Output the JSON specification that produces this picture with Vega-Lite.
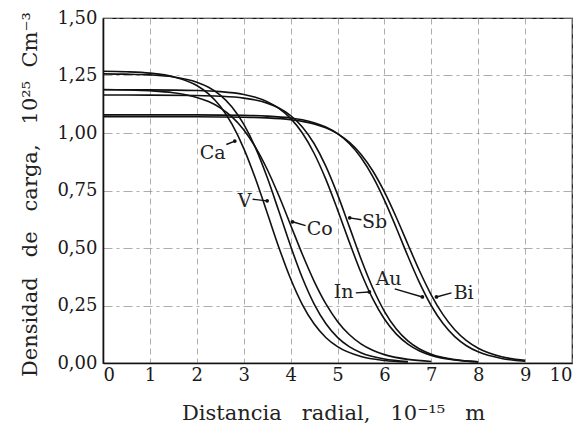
{
  "$schema": "https://vega.github.io/schema/vega-lite/v6.json",
  "autosize": {"type": "none"},
  "padding": {"left": 103, "top": 18, "right": 11, "bottom": 70},
  "width": 469,
  "height": 345,
  "background": "#ffffff",
  "config": {
    "font": "DejaVu Serif",
    "view": {"stroke": "#111", "strokeWidth": 1.2}
  },
  "datasets": {
    "curves": [
      {"s":"Ca","x":0,"y":1.2686},{"s":"Ca","x":0.5,"y":1.2663},{"s":"Ca","x":1.0,"y":1.2603},{"s":"Ca","x":1.5,"y":1.2449},{"s":"Ca","x":2.0,"y":1.2064},{"s":"Ca","x":2.25,"y":1.1702},{"s":"Ca","x":2.5,"y":1.1161},{"s":"Ca","x":2.75,"y":1.0383},{"s":"Ca","x":3.0,"y":0.9332},{"s":"Ca","x":3.25,"y":0.8019},{"s":"Ca","x":3.5,"y":0.6533},{"s":"Ca","x":3.75,"y":0.5026},{"s":"Ca","x":4.0,"y":0.3661},{"s":"Ca","x":4.25,"y":0.2543},{"s":"Ca","x":4.5,"y":0.1703},{"s":"Ca","x":4.75,"y":0.111},{"s":"Ca","x":5.0,"y":0.071},{"s":"Ca","x":5.5,"y":0.0281},{"s":"Ca","x":6.0,"y":0.0109},{"s":"Ca","x":6.5,"y":0.0042},
      {"s":"V","x":0,"y":1.2572},{"s":"V","x":0.5,"y":1.2559},{"s":"V","x":1.0,"y":1.2526},{"s":"V","x":1.5,"y":1.2437},{"s":"V","x":2.0,"y":1.2209},{"s":"V","x":2.25,"y":1.1989},{"s":"V","x":2.5,"y":1.1647},{"s":"V","x":2.75,"y":1.1131},{"s":"V","x":3.0,"y":1.0383},{"s":"V","x":3.25,"y":0.9362},{"s":"V","x":3.5,"y":0.8072},{"s":"V","x":3.75,"y":0.6595},{"s":"V","x":4.0,"y":0.5084},{"s":"V","x":4.25,"y":0.3704},{"s":"V","x":4.5,"y":0.2571},{"s":"V","x":4.75,"y":0.1717},{"s":"V","x":5.0,"y":0.1115},{"s":"V","x":5.25,"y":0.071},{"s":"V","x":5.5,"y":0.0447},{"s":"V","x":6.0,"y":0.0173},{"s":"V","x":6.5,"y":0.0066},
      {"s":"Co","x":0,"y":1.1889},{"s":"Co","x":0.5,"y":1.1873},{"s":"Co","x":1.0,"y":1.1836},{"s":"Co","x":1.5,"y":1.175},{"s":"Co","x":2.0,"y":1.1548},{"s":"Co","x":2.25,"y":1.1365},{"s":"Co","x":2.5,"y":1.1094},{"s":"Co","x":2.75,"y":1.07},{"s":"Co","x":3.0,"y":1.0143},{"s":"Co","x":3.25,"y":0.9389},{"s":"Co","x":3.5,"y":0.8424},{"s":"Co","x":3.75,"y":0.727},{"s":"Co","x":4.0,"y":0.6001},{"s":"Co","x":4.25,"y":0.4728},{"s":"Co","x":4.5,"y":0.3562},{"s":"Co","x":4.75,"y":0.2579},{"s":"Co","x":5.0,"y":0.1809},{"s":"Co","x":5.25,"y":0.1238},{"s":"Co","x":5.5,"y":0.0833},{"s":"Co","x":5.75,"y":0.0553},{"s":"Co","x":6.0,"y":0.0364},{"s":"Co","x":6.5,"y":0.0156},{"s":"Co","x":7.0,"y":0.0066},
      {"s":"In","x":0,"y":1.1879},{"s":"In","x":1.0,"y":1.1875},{"s":"In","x":2.0,"y":1.1849},{"s":"In","x":2.5,"y":1.18},{"s":"In","x":3.0,"y":1.1675},{"s":"In","x":3.25,"y":1.1554},{"s":"In","x":3.5,"y":1.1364},{"s":"In","x":3.75,"y":1.1073},{"s":"In","x":4.0,"y":1.0634},{"s":"In","x":4.25,"y":0.9997},{"s":"In","x":4.5,"y":0.912},{"s":"In","x":4.75,"y":0.7993},{"s":"In","x":5.0,"y":0.6669},{"s":"In","x":5.25,"y":0.5267},{"s":"In","x":5.5,"y":0.3936},{"s":"In","x":5.75,"y":0.28},{"s":"In","x":6.0,"y":0.1912},{"s":"In","x":6.25,"y":0.1267},{"s":"In","x":6.5,"y":0.0822},{"s":"In","x":6.75,"y":0.0525},{"s":"In","x":7.0,"y":0.0332},{"s":"In","x":7.5,"y":0.0131},{"s":"In","x":8.0,"y":0.0051},
      {"s":"Sb","x":0,"y":1.165},{"s":"Sb","x":1.0,"y":1.1647},{"s":"Sb","x":2.0,"y":1.1631},{"s":"Sb","x":2.5,"y":1.1599},{"s":"Sb","x":3.0,"y":1.1516},{"s":"Sb","x":3.25,"y":1.1432},{"s":"Sb","x":3.5,"y":1.1299},{"s":"Sb","x":3.75,"y":1.1087},{"s":"Sb","x":4.0,"y":1.0758},{"s":"Sb","x":4.25,"y":1.0261},{"s":"Sb","x":4.5,"y":0.9542},{"s":"Sb","x":4.75,"y":0.8561},{"s":"Sb","x":5.0,"y":0.7332},{"s":"Sb","x":5.25,"y":0.594},{"s":"Sb","x":5.5,"y":0.4533},{"s":"Sb","x":5.75,"y":0.327},{"s":"Sb","x":6.0,"y":0.2247},{"s":"Sb","x":6.25,"y":0.1487},{"s":"Sb","x":6.5,"y":0.0959},{"s":"Sb","x":6.75,"y":0.0606},{"s":"Sb","x":7.0,"y":0.0379},{"s":"Sb","x":7.5,"y":0.0145},{"s":"Sb","x":8.0,"y":0.0055},
      {"s":"Au","x":0,"y":1.079},{"s":"Au","x":1.0,"y":1.0789},{"s":"Au","x":2.0,"y":1.0787},{"s":"Au","x":3.0,"y":1.0768},{"s":"Au","x":3.5,"y":1.0735},{"s":"Au","x":4.0,"y":1.0653},{"s":"Au","x":4.25,"y":1.0574},{"s":"Au","x":4.5,"y":1.045},{"s":"Au","x":4.75,"y":1.026},{"s":"Au","x":5.0,"y":0.9971},{"s":"Au","x":5.25,"y":0.9545},{"s":"Au","x":5.5,"y":0.8938},{"s":"Au","x":5.75,"y":0.8118},{"s":"Au","x":6.0,"y":0.7085},{"s":"Au","x":6.25,"y":0.5893},{"s":"Au","x":6.5,"y":0.4651},{"s":"Au","x":6.75,"y":0.3483},{"s":"Au","x":7.0,"y":0.249},{"s":"Au","x":7.25,"y":0.1714},{"s":"Au","x":7.5,"y":0.1147},{"s":"Au","x":7.75,"y":0.0751},{"s":"Au","x":8.0,"y":0.0485},{"s":"Au","x":8.5,"y":0.0198},{"s":"Au","x":9.0,"y":0.0079},
      {"s":"Bi","x":0,"y":1.071},{"s":"Bi","x":1.0,"y":1.0709},{"s":"Bi","x":2.0,"y":1.0706},{"s":"Bi","x":3.0,"y":1.0688},{"s":"Bi","x":3.5,"y":1.0656},{"s":"Bi","x":4.0,"y":1.0579},{"s":"Bi","x":4.25,"y":1.0507},{"s":"Bi","x":4.5,"y":1.0396},{"s":"Bi","x":4.75,"y":1.0227},{"s":"Bi","x":5.0,"y":0.9974},{"s":"Bi","x":5.25,"y":0.9604},{"s":"Bi","x":5.5,"y":0.9076},{"s":"Bi","x":5.75,"y":0.8358},{"s":"Bi","x":6.0,"y":0.7437},{"s":"Bi","x":6.25,"y":0.6347},{"s":"Bi","x":6.5,"y":0.5164},{"s":"Bi","x":6.75,"y":0.3999},{"s":"Bi","x":7.0,"y":0.2956},{"s":"Bi","x":7.25,"y":0.2101},{"s":"Bi","x":7.5,"y":0.1446},{"s":"Bi","x":7.75,"y":0.0973},{"s":"Bi","x":8.0,"y":0.0644},{"s":"Bi","x":8.5,"y":0.0273},{"s":"Bi","x":9.0,"y":0.0114}
    ],
    "labels": [
      {"name":"Ca","lx":2.34,"ly":0.914,"x1":2.63,"y1":0.95,"x2":2.81,"y2":0.965},
      {"name":"V","lx":3.02,"ly":0.705,"x1":3.19,"y1":0.712,"x2":3.5,"y2":0.705},
      {"name":"Co","lx":4.62,"ly":0.583,"x1":4.32,"y1":0.597,"x2":4.04,"y2":0.614},
      {"name":"Sb","lx":5.79,"ly":0.613,"x1":5.51,"y1":0.623,"x2":5.26,"y2":0.631},
      {"name":"In","lx":5.13,"ly":0.309,"x1":5.39,"y1":0.305,"x2":5.68,"y2":0.309},
      {"name":"Au","lx":6.09,"ly":0.365,"x1":6.22,"y1":0.322,"x2":6.81,"y2":0.287},
      {"name":"Bi","lx":7.69,"ly":0.305,"x1":7.43,"y1":0.305,"x2":7.11,"y2":0.287}
    ]
  },
  "layer": [
    {
      "data": {"name": "curves"},
      "mark": {"type": "line", "interpolate": "monotone", "color": "#111", "strokeWidth": 1.6},
      "encoding": {
        "x": {
          "field": "x", "type": "quantitative",
          "scale": {"domain": [0, 10], "nice": false},
          "axis": {
            "values": [0,1,2,3,4,5,6,7,8,9,10],
            "format": "d",
            "title": "Distancia\u00a0\u00a0 radial,\u00a0\u00a0 10⁻¹⁵\u00a0\u00a0 m",
            "titleFont": "DejaVu Serif", "titleFontSize": 21, "titleFontWeight": "normal",
            "titleColor": "#222",
            "titleX": 230, "titleY": 50, "titleBaseline": "middle",
            "labelFont": "DejaVu Serif", "labelFontSize": 18, "labelColor": "#1a1a1a",
            "labelPadding": 3, "ticks": false,
            "domainColor": "#111", "domainWidth": 1.6,
            "grid": true, "gridColor": "#8a8a8a", "gridDash": [6, 4], "gridWidth": 0.7
          }
        },
        "y": {
          "field": "y", "type": "quantitative",
          "scale": {"domain": [0, 1.5], "nice": false},
          "axis": {
            "values": [0, 0.25, 0.5, 0.75, 1.0, 1.25, 1.5],
            "labelExpr": "replace(format(datum.value, '.2f'), '.', ',')",
            "title": "Densidad\u00a0\u00a0 de\u00a0\u00a0 carga,\u00a0\u00a0 10²⁵\u00a0 Cm⁻³",
            "titleFont": "DejaVu Serif", "titleFontSize": 21, "titleFontWeight": "normal",
            "titleColor": "#222",
            "titleX": -73, "titleY": 176, "titleBaseline": "middle", "titleAngle": -90,
            "labelFont": "DejaVu Serif", "labelFontSize": 18, "labelColor": "#1a1a1a",
            "labelPadding": 6, "ticks": false,
            "domainColor": "#111", "domainWidth": 1.6,
            "grid": true, "gridColor": "#8a8a8a", "gridDash": [9, 4, 3, 4], "gridWidth": 0.7
          }
        },
        "detail": {"field": "s", "type": "nominal"}
      }
    },
    {
      "data": {"name": "labels"},
      "mark": {"type": "rule", "color": "#111", "strokeWidth": 1.4},
      "encoding": {
        "x": {"field": "x1", "type": "quantitative"},
        "y": {"field": "y1", "type": "quantitative"},
        "x2": {"field": "x2"},
        "y2": {"field": "y2"}
      }
    },
    {
      "data": {"name": "labels"},
      "mark": {"type": "point", "filled": true, "color": "#111", "size": 14, "opacity": 1},
      "encoding": {
        "x": {"field": "x2", "type": "quantitative"},
        "y": {"field": "y2", "type": "quantitative"}
      }
    },
    {
      "data": {"name": "labels"},
      "mark": {"type": "text", "font": "DejaVu Serif", "fontSize": 19, "color": "#222", "align": "center", "baseline": "middle"},
      "encoding": {
        "x": {"field": "lx", "type": "quantitative"},
        "y": {"field": "ly", "type": "quantitative"},
        "text": {"field": "name"}
      }
    }
  ]
}
